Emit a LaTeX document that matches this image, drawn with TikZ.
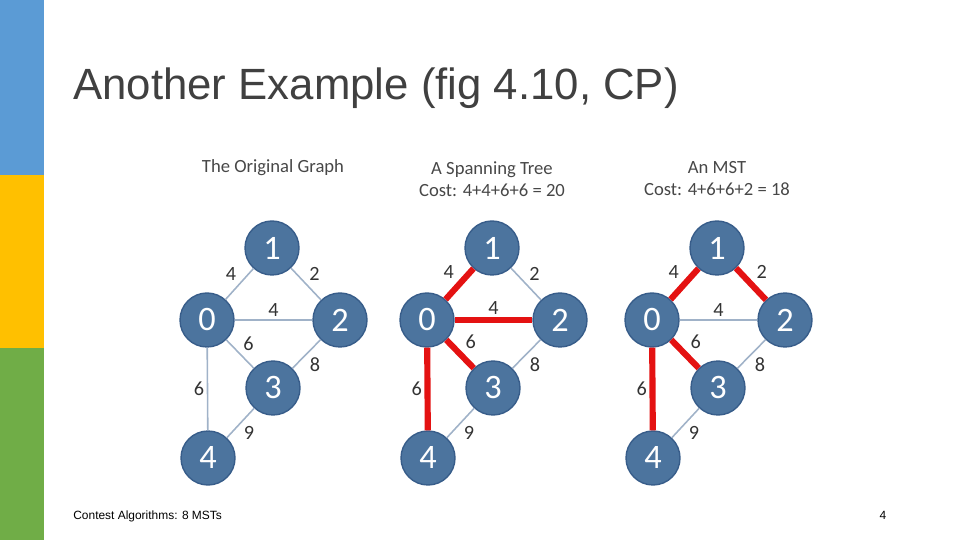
\documentclass[tikz,border=0pt]{standalone}
\usepackage{fontspec}
\setmainfont{Carlito}
\newfontfamily\slidefont{Liberation Sans}
\usetikzlibrary{positioning}

\definecolor{barblue}{RGB}{91,155,213}
\definecolor{baryellow}{RGB}{255,192,0}
\definecolor{bargreen}{RGB}{112,173,71}
\definecolor{vertexfill}{RGB}{76,116,158}
\definecolor{vertexline}{RGB}{56,93,138}
\definecolor{edgegray}{RGB}{160,178,200}
\definecolor{treered}{RGB}{228,18,18}
\definecolor{textgray}{RGB}{64,64,64}

\tikzset{
  vertex/.style={circle,fill=vertexfill,draw=vertexline,line width=0.8pt,
    minimum size=1.08cm,inner sep=0pt,text=white,font=\fontsize{19.5}{19.5}\selectfont},
  weight/.style={font=\fontsize{11.5}{12}\selectfont,text=black!80,inner sep=1.5pt},
  plainedge/.style={draw=edgegray,line width=0.9pt},
  treeedge/.style={draw=treered,line width=3.5pt},
  caption/.style={font=\fontsize{10.6}{12.5}\selectfont,text=black!72,align=center}
}

\begin{document}
\begin{tikzpicture}[x=0.02cm,y=-0.02cm]
  \useasboundingbox (0,0) rectangle (960,540);
  % colour bars on the left
  \fill[barblue] (0,0) rectangle (44,175);
  \fill[baryellow] (0,175) rectangle (44,348);
  \fill[bargreen] (0,348) rectangle (44,540);

  % slide title and footer
  \node[anchor=base west,inner sep=0,text=textgray,
    font=\slidefont\fontsize{24.9}{30}\selectfont] (title) at (73,100)
    {Another Example (fig 4.10, CP)};
  \node[anchor=base west,inner sep=0,
    font=\slidefont\fontsize{6.8}{8}\selectfont] (footer) at (73,519)
    {Contest Algorithms: 8 MSTs};
  \node[anchor=base,inner sep=0,
    font=\slidefont\fontsize{6.8}{8}\selectfont] (pagenum) at (883,519) {4};

  % captions
  \node[caption] (capa) at (273,168) {The Original Graph};
  \node[caption] (capb) at (492,179) {A Spanning Tree\\Cost: 4+4+6+6 = 20};
  \node[caption] (capc) at (717,179) {An MST\\Cost: 4+6+6+2 = 18};

  % the three graphs: name/shift/styles of edges 01,12,02,03,04
  \foreach \g/\dx/\sa/\sb/\sc/\sd/\se in {
      a/0/plainedge/plainedge/plainedge/plainedge/plainedge,
      b/220/treeedge/plainedge/treeedge/treeedge/treeedge,
      c/445/treeedge/treeedge/plainedge/treeedge/treeedge} {
    \begin{scope}[shift={(\dx,0)}]
      \node[vertex] (\g1) at (272,248) {1};
      \node[vertex] (\g0) at (207,320) {0};
      \node[vertex] (\g2) at (340,320) {2};
      \node[vertex] (\g3) at (273,388) {3};
      \node[vertex] (\g4) at (208,458) {4};
      \draw[\sa] (\g0) -- node[weight,above left] {4} (\g1);
      \draw[\sb] (\g1) -- node[weight,above right] {2} (\g2);
      \draw[\sc] (\g0) -- node[weight,above] {4} (\g2);
      \draw[\sd] (\g0) -- node[weight,above right] {6} (\g3);
      \draw[plainedge] (\g2) -- node[weight,below right] {8} (\g3);
      \draw[\se] (\g0) -- node[weight,left] {6} (\g4);
      \draw[plainedge] (\g3) -- node[weight,below right] {9} (\g4);
    \end{scope}
  }
\end{tikzpicture}
\end{document}
